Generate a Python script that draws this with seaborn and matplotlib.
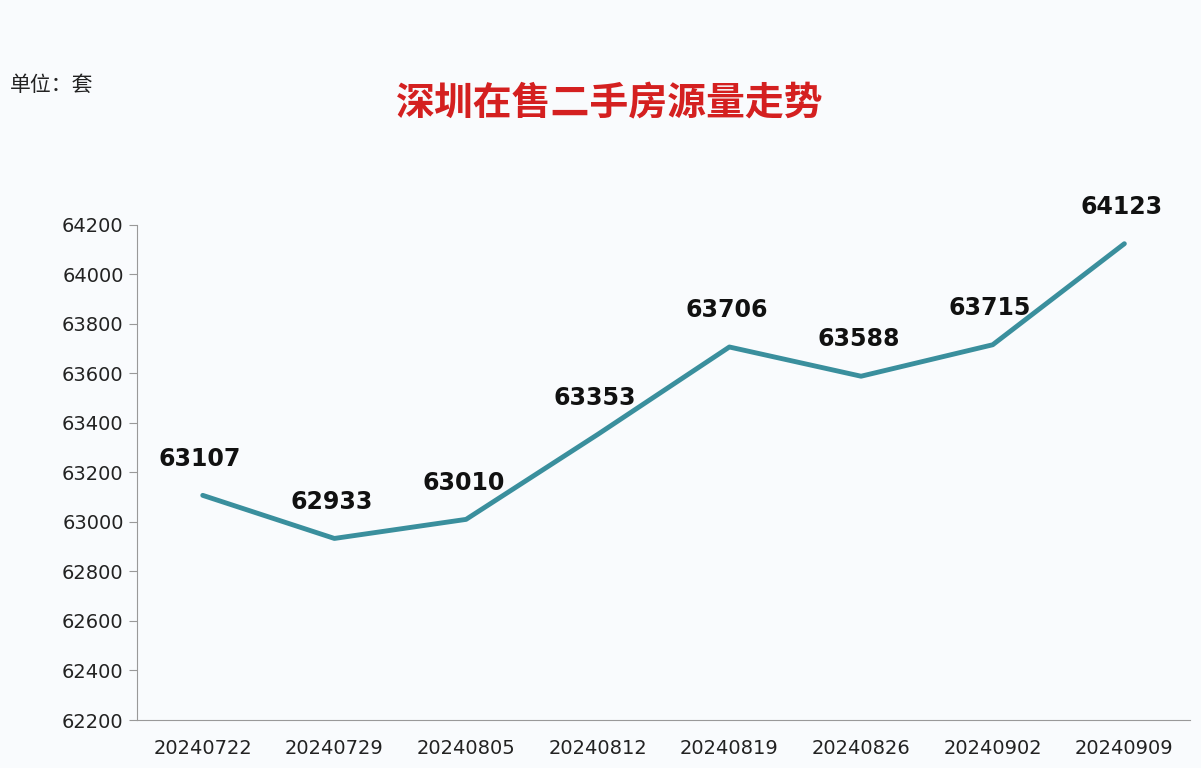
import matplotlib
matplotlib.use("Agg")
import matplotlib.pyplot as plt
import seaborn as sns
import pandas as pd
import numpy as np

dates = ["20240722","20240729","20240805","20240812","20240819","20240826","20240902","20240909"]
values = [63107, 62933, 63010, 63353, 63706, 63588, 63715, 64123]

sns.set_style("white")
plt.rcParams['font.family'] = ['DejaVu Sans', 'Noto Sans CJK SC']

bg = "#f9fbfd"
fig = plt.figure(figsize=(12.01, 7.68), dpi=100, facecolor=bg)
ax = fig.add_axes([0.114, 0.0625, 0.877, 0.645], facecolor=bg)

df = pd.DataFrame({"pos": np.arange(len(dates)), "val": values})
sns.lineplot(data=df, x="pos", y="val", ax=ax, color="#3a8f9d", linewidth=3.5)

for x, v in zip(df["pos"], values):
    ax.text(x - 0.02, v + 100, str(v), ha="center", va="bottom", fontsize=17, fontweight="bold", color="#111111")

ax.set_xlim(-0.5, 7.5)
ax.set_ylim(62200, 64200)
ax.set_yticks(np.arange(62200, 64201, 200))
ax.set_xticks(range(len(dates)))
ax.set_xticklabels(dates)
ax.set_xticks(np.arange(-0.5, 8, 1), minor=True)
ax.tick_params(axis="x", which="major", length=0, labelsize=14, pad=14, colors="#222222")
ax.tick_params(axis="x", which="minor", length=6, color="#999999")
ax.tick_params(axis="y", length=6, color="#999999", labelsize=14, labelcolor="#222222", left=True)
ax.set_xlabel("")
ax.set_ylabel("")
for s in ["top", "right"]:
    ax.spines[s].set_visible(False)
for s in ["left", "bottom"]:
    ax.spines[s].set_color("#999999")
for l in ax.lines:
    l.set_clip_on(False)

fig.text(0.008, 0.89, "单位：套", fontsize=15, color="#222222", ha="left", va="center",
         family=['Noto Sans CJK SC', 'DejaVu Sans'])
fig.text(0.508, 0.865, "深圳在售二手房源量走势", fontsize=28, fontweight="bold", color="#d42020",
         ha="center", va="center", family=['Noto Sans CJK SC', 'DejaVu Sans'])

fig.savefig("out.png", dpi=100, facecolor=bg)
